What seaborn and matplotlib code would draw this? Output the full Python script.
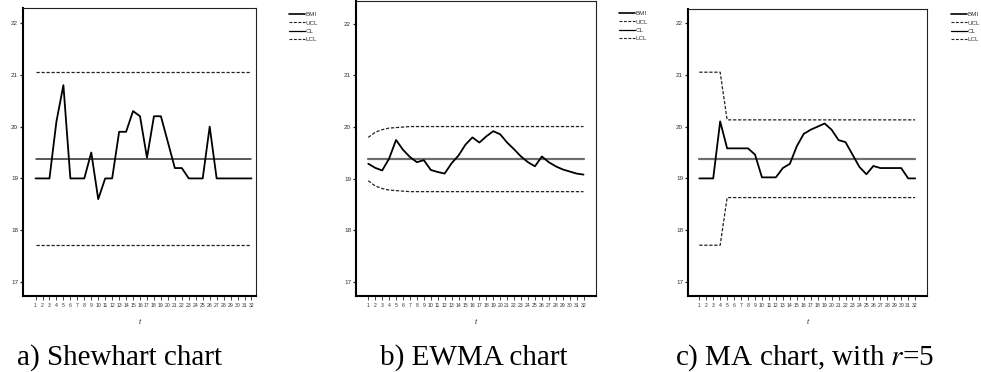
import numpy as np
import pandas as pd
import seaborn as sns
import matplotlib.pyplot as plt

# time index
t = list(range(1, 33))

# a) Shewhart chart - raw BMI values
bmi = [19.0, 19.0, 19.0, 20.1, 20.8, 19.0, 19.0, 19.0, 19.5, 18.6,
       19.0, 19.0, 19.9, 19.9, 20.3, 20.2, 19.4, 20.2, 20.2, 19.7,
       19.2, 19.2, 19.0, 19.0, 19.0, 20.0, 19.0, 19.0, 19.0, 19.0,
       19.0, 19.0]
shew_ucl = [21.05] * 32
shew_cl = [19.38] * 32
shew_lcl = [17.71] * 32

# b) EWMA chart
ewma = [19.29, 19.21, 19.16, 19.39, 19.75, 19.56, 19.42, 19.32, 19.36, 19.17,
        19.13, 19.10, 19.30, 19.45, 19.66, 19.80, 19.70, 19.82, 19.92, 19.86,
        19.70, 19.57, 19.43, 19.32, 19.24, 19.43, 19.32, 19.24, 19.18, 19.14,
        19.10, 19.08]
ewma_ucl = [19.80, 19.90, 19.95, 19.98, 19.99, 20.00] + [20.01] * 26
ewma_cl = [19.38] * 32
ewma_lcl = [18.96, 18.86, 18.81, 18.78, 18.77, 18.76] + [18.75] * 26

# c) MA chart, r=5
ma = [19.0, 19.0, 19.0, 20.1, 19.58, 19.58, 19.58, 19.58, 19.46, 19.02,
      19.02, 19.02, 19.2, 19.28, 19.62, 19.86, 19.94, 20.0, 20.06, 19.94,
      19.74, 19.70, 19.46, 19.22, 19.08, 19.24, 19.2, 19.2, 19.2, 19.2,
      19.0, 19.0]
ma_ucl = [21.05] * 4 + [20.13] * 28
ma_cl = [19.38] * 32
ma_lcl = [17.71] * 4 + [18.63] * 28

legend_labels = ['BMI', 'UCL', 'CL', 'LCL']
captions = ['a) Shewhart chart', 'b) EWMA chart', 'c) MA chart, with $r$=5']

sns.set_style('white')
plt.rcParams['font.family'] = ['Liberation Sans', 'DejaVu Sans']
plt.rcParams['mathtext.fontset'] = 'stix'

fig = plt.figure(figsize=(9.81, 3.72), dpi=100)
W, H = 981, 372

# panel boxes in pixels: left, right, top, bottom
boxes = [(23, 256, 8, 296), (356, 596, 1, 296), (688, 927, 9, 296)]
xlims = [(-0.8, 32.65), (-0.77, 33.8), (-0.62, 33.7)]
ylims = [(16.73, 22.29), (16.73, 22.44), (16.73, 22.27)]
legend_pos = [(289, 12), (619, 11), (951, 12)]
caption_x = [17, 380, 675]

series = [
    (bmi, shew_ucl, shew_cl, shew_lcl, '#2a2a2a', 1.1),
    (ewma, ewma_ucl, ewma_cl, ewma_lcl, '#6e6e6e', 1.6),
    (ma, ma_ucl, ma_cl, ma_lcl, '#6e6e6e', 1.6),
]

dash = (0, (2.6, 1.4))

for i, (vals, ucl, cl, lcl, cl_color, cl_lw) in enumerate(series):
    l, r, top, bot = boxes[i]
    ax = fig.add_axes([l / W, 1 - bot / H, (r - l) / W, (bot - top) / H])
    df = pd.DataFrame({'t': t, 'BMI': vals, 'UCL': ucl, 'CL': cl, 'LCL': lcl})

    sns.lineplot(data=df, x='t', y='CL', ax=ax, color=cl_color, lw=cl_lw, label='_cl')
    sns.lineplot(data=df, x='t', y='UCL', ax=ax, color='#222222', lw=0.9, linestyle=dash, label='_ucl')
    sns.lineplot(data=df, x='t', y='LCL', ax=ax, color='#222222', lw=0.9, linestyle=dash, label='_lcl')
    sns.lineplot(data=df, x='t', y='BMI', ax=ax, color='black', lw=1.3, label='_bmi')

    ax.set_xlim(*xlims[i])
    ax.set_ylim(*ylims[i])
    ax.set_xticks(t)
    ax.set_xticklabels([str(v) for v in t], fontsize=3.7, color='#333333')
    ax.set_yticks([17, 18, 19, 20, 21, 22])
    ax.set_yticklabels(['17', '18', '19', '20', '21', '22'], fontsize=4.6, color='#333333')
    ax.tick_params(axis='x', direction='out', length=3.2, width=0.7, pad=2, colors='#444444',
                   labelcolor='#333333', bottom=True)
    ax.tick_params(axis='y', direction='out', length=2.5, width=0.9, pad=1, colors='#222222',
                   labelcolor='#333333', left=True)
    ax.set_ylabel('')
    ax.set_xlabel('t', fontsize=5.5, style='italic', labelpad=8, color='#333333')

    for side in ['left', 'bottom']:
        ax.spines[side].set_linewidth(1.5)
        ax.spines[side].set_color('black')
    for side in ['top', 'right']:
        ax.spines[side].set_linewidth(0.8)
        ax.spines[side].set_color('#222222')

    # legend outside to the right
    handles = [
        plt.Line2D([], [], color='black', lw=1.2),
        plt.Line2D([], [], color='#222222', lw=0.8, linestyle=dash),
        plt.Line2D([], [], color='black', lw=0.9),
        plt.Line2D([], [], color='#222222', lw=0.8, linestyle=dash),
    ]
    lx, ly = legend_pos[i]
    ax.legend(handles, legend_labels, loc='upper left', bbox_to_anchor=(lx / W, 1 - ly / H),
              bbox_transform=fig.transFigure, frameon=False, fontsize=4.5, labelcolor='#333333',
              handlelength=2.6, handletextpad=0.1, labelspacing=0.45, borderpad=0, borderaxespad=0)

    fig.text(caption_x[i] / W, 1 - 365 / H, captions[i], fontsize=21, ha='left', va='baseline',
             family='Liberation Serif', color='black')

fig.savefig('out.png', dpi=100)
